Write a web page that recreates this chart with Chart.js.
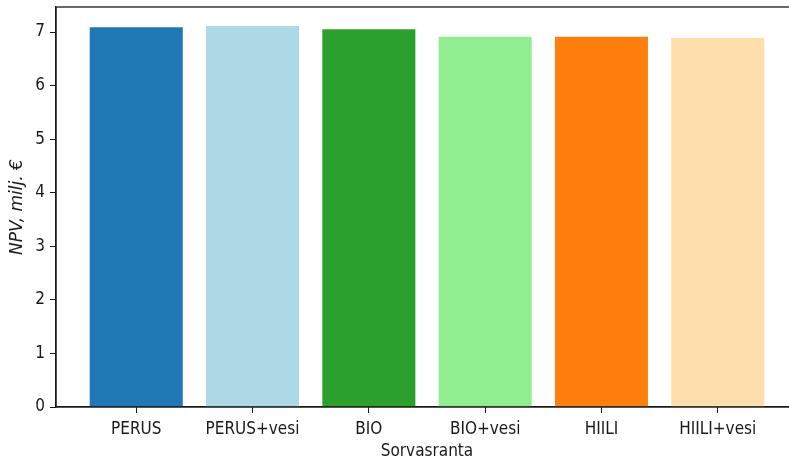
<!DOCTYPE html>
<html>
<head>
<meta charset="utf-8">
<script src="https://cdn.jsdelivr.net/npm/chart.js@4/dist/chart.umd.min.js"></script>
<style>
  html, body { margin: 0; padding: 0; background: #fff; overflow: hidden; }
  #wrap { width: 800px; height: 461px; }
</style>
</head>
<body>
<div id="wrap"><canvas id="npv" width="800" height="461"></canvas></div>
<script>
// ── Data ─────────────────────────────────────────────
const categories = ['PERUS', 'PERUS+vesi', 'BIO', 'BIO+vesi', 'HIILI', 'HIILI+vesi'];
const npvValues  = [7.09, 7.11, 7.05, 6.91, 6.91, 6.89];
const barColors  = ['#1f77b4', '#add8e6', '#2ca02c', '#90ee90', '#ff7f0e', '#ffdead'];
const yTicks     = [0, 1, 2, 3, 4, 5, 6, 7];

const labelFont = { family: "'DejaVu Sans Condensed', 'DejaVu Sans', sans-serif", size: 17 };
const ink = '#1a1a1a';

// frame around the plot area (matplotlib style spines)
const framePlugin = {
  id: 'frame',
  afterDraw(chart) {
    const { ctx, chartArea: { left, right, top, bottom } } = chart;
    ctx.save();
    ctx.strokeStyle = ink;
    ctx.lineWidth = 1.3;
    ctx.strokeRect(left, top, right - left, bottom - top);
    ctx.restore();
  }
};

new Chart(document.getElementById('npv').getContext('2d'), {
  type: 'bar',
  data: {
    datasets: [{
      data: npvValues.map((v, i) => ({ x: i, y: v })),
      backgroundColor: barColors,
      borderWidth: 0,
      barPercentage: 0.8,
      categoryPercentage: 1.0,
    }]
  },
  options: {
    responsive: false,
    animation: false,
    devicePixelRatio: 1,
    layout: { padding: { top: 7, right: 2, left: 0, bottom: 0 } },
    plugins: { legend: { display: false }, tooltip: { enabled: false } },
    scales: {
      x: {
        type: 'linear',
        offset: false,
        min: -0.69,
        max: 5.69,
        afterBuildTicks: s => { s.ticks = categories.map((_, i) => ({ value: i })); },
        afterFit: s => { s.height = 54; s.paddingLeft = 0; s.paddingRight = 0; },
        grid: { display: true, offset: false, drawOnChartArea: false, drawTicks: true, tickLength: 6, color: ink },
        border: { display: true, color: ink, width: 1.3 },
        ticks: {
          color: ink, font: labelFont, padding: 6, maxRotation: 0, autoSkip: false,
          callback: v => categories[v] ?? ''
        },
        title: {
          display: true, text: 'Sorvasranta', color: ink,
          font: { ...labelFont, lineHeight: 1.1 }, padding: { top: 0, bottom: 0 }
        }
      },
      y: {
        min: 0,
        max: 7.467,
        afterBuildTicks: s => { s.ticks = yTicks.map(v => ({ value: v })); },
        afterFit: s => { s.width = 56; s.paddingTop = 0; s.paddingBottom = 0; },
        grid: { display: true, drawOnChartArea: false, drawTicks: true, tickLength: 6, color: ink },
        border: { display: true, color: ink, width: 1.3 },
        ticks: { color: ink, font: labelFont, padding: 5 },
        title: {
          display: true, text: 'NPV, milj. €', color: ink,
          font: { family: "'DejaVu Sans', sans-serif", size: 17, style: 'italic', lineHeight: 1.2 },
          padding: { top: 7, bottom: 0 }
        }
      }
    }
  },
  plugins: [framePlugin]
});
</script>
</body>
</html>
